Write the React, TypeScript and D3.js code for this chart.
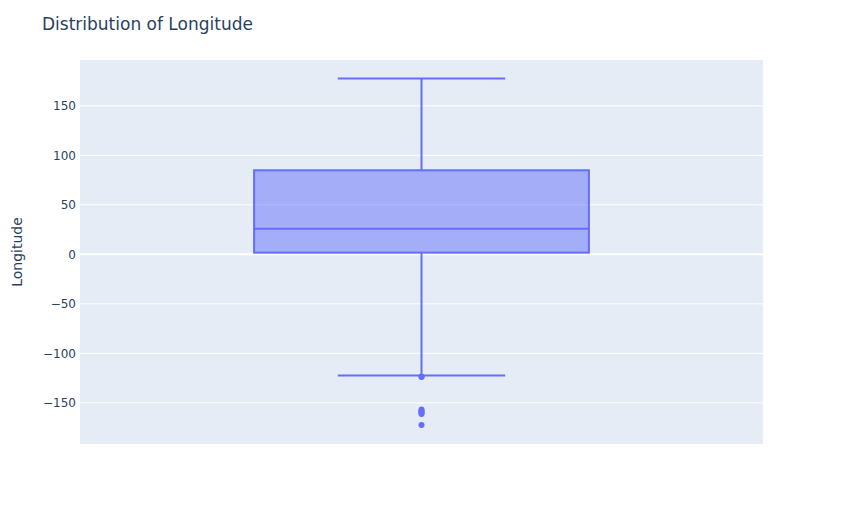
import React, { useEffect, useRef } from 'react';
import * as d3 from 'd3';

// Summary statistics (degrees)
const seriesName = 'Longitude';
const boxStats = { lowerFence: -122.4, q1: 1.7, median: 25.9, q3: 84.9, upperFence: 177.5 };
const outliers = [-123.3, -124.0, -156.8, -157.9, -159.2, -160.4, -161.3, -172.4];
const yTicks = [-150, -100, -50, 0, 50, 100, 150];
const yDomain: [number, number] = [-191.6, 196.3];

const W = 844;
const H = 525;
const margin = { top: 60, right: 81, bottom: 81, left: 80 };

export default function App() {
  const svgRef = useRef<SVGSVGElement>(null);

  useEffect(() => {
    if (!svgRef.current) return;
    d3.select(svgRef.current).selectAll('*').remove();

    const innerW = W - margin.left - margin.right;
    const innerH = H - margin.top - margin.bottom;
    const font = '"DejaVu Sans", verdana, arial, sans-serif';
    const textColor = '#2a3f5f';
    const boxColor = '#636efa';

    const svg = d3.select(svgRef.current);
    svg.append('rect').attr('width', W).attr('height', H).attr('fill', '#fff');

    const g = svg.append('g').attr('transform', `translate(${margin.left},${margin.top})`);
    g.append('rect').attr('width', innerW).attr('height', innerH).attr('fill', '#E5ECF6');

    const y = d3.scaleLinear().domain(yDomain).range([innerH, 0]);
    const x = d3.scaleBand().domain([seriesName]).range([0, innerW]).paddingInner(0).paddingOuter(0.52);

    // grid
    g.selectAll('.grid')
      .data(yTicks)
      .enter()
      .append('line')
      .attr('x1', 0)
      .attr('x2', innerW)
      .attr('y1', d => y(d))
      .attr('y2', d => y(d))
      .attr('stroke', '#fff')
      .attr('stroke-width', d => (d === 0 ? 2 : 1));

    // tick labels
    g.selectAll('.tick')
      .data(yTicks)
      .enter()
      .append('text')
      .attr('x', -4)
      .attr('y', d => y(d))
      .attr('dy', '0.35em')
      .attr('text-anchor', 'end')
      .style('font-family', font)
      .style('font-size', '12px')
      .attr('fill', textColor)
      .text(d => (d < 0 ? `\u2212${Math.abs(d)}` : `${d}`));

    // box
    const bw = x.bandwidth();
    const cx = (x(seriesName) as number) + bw / 2;
    const halfW = bw / 2;
    const whiskW = bw / 4;

    g.append('line')
      .attr('x1', cx).attr('x2', cx)
      .attr('y1', y(boxStats.upperFence)).attr('y2', y(boxStats.q3))
      .attr('stroke', boxColor).attr('stroke-width', 2);
    g.append('line')
      .attr('x1', cx).attr('x2', cx)
      .attr('y1', y(boxStats.q1)).attr('y2', y(boxStats.lowerFence))
      .attr('stroke', boxColor).attr('stroke-width', 2);
    [boxStats.upperFence, boxStats.lowerFence].forEach(v => {
      g.append('line')
        .attr('x1', cx - whiskW).attr('x2', cx + whiskW)
        .attr('y1', y(v)).attr('y2', y(v))
        .attr('stroke', boxColor).attr('stroke-width', 2);
    });

    g.append('rect')
      .attr('x', cx - halfW)
      .attr('width', halfW * 2)
      .attr('y', y(boxStats.q3))
      .attr('height', y(boxStats.q1) - y(boxStats.q3))
      .attr('fill', 'rgba(99,110,250,0.5)')
      .attr('stroke', boxColor)
      .attr('stroke-width', 2);

    g.append('line')
      .attr('x1', cx - halfW).attr('x2', cx + halfW)
      .attr('y1', y(boxStats.median)).attr('y2', y(boxStats.median))
      .attr('stroke', boxColor).attr('stroke-width', 2);

    g.selectAll('.outlier')
      .data(outliers)
      .enter()
      .append('circle')
      .attr('cx', cx)
      .attr('cy', d => y(d))
      .attr('r', 3)
      .attr('fill', boxColor);

    // titles
    svg.append('text')
      .attr('x', 42)
      .attr('y', 30)
      .style('font-family', font)
      .style('font-size', '17px')
      .attr('fill', textColor)
      .text('Distribution of Longitude');

    svg.append('text')
      .attr('transform', `translate(22,${margin.top + innerH / 2}) rotate(-90)`)
      .attr('text-anchor', 'middle')
      .style('font-family', font)
      .style('font-size', '14px')
      .attr('fill', textColor)
      .text('Longitude');
  }, []);

  return (
    <div style={{ position: 'absolute', left: 0, top: 0 }}>
      <svg ref={svgRef} width={W} height={H}></svg>
    </div>
  );
}
